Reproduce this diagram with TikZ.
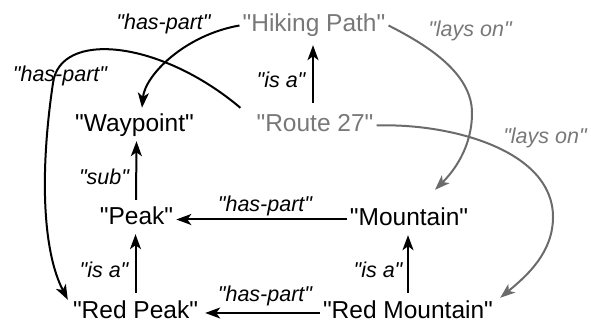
\documentclass[tikz,border=0pt]{standalone}
\usepackage{fontspec}
\setmainfont{Liberation Sans}[Ligatures=TeXOff]
\usetikzlibrary{arrows.meta}
\definecolor{txtgray}{gray}{0.47}
\definecolor{lngray}{gray}{0.42}
\tikzset{
  concept/.style={anchor=base, inner xsep=3pt, inner ysep=4pt, text height=18pt, text depth=5pt,
    font=\fontsize{24.5pt}{28pt}\selectfont},
  lowconcept/.style={concept, inner ysep=0pt, text depth=0pt},
  relname/.style={anchor=base, inner sep=0pt, font=\itshape\fontsize{21.5pt}{25pt}\selectfont},
  rel/.style={line width=2pt, -{Stealth[length=15pt, width=11pt, inset=4pt]}},
  grayrel/.style={rel, draw=lngray},
}
\begin{document}
\begin{tikzpicture}[x=1pt, y=1pt]
\useasboundingbox (0,0) rectangle (591,320);
% concepts
\node[concept, text=txtgray] (hiking) at (314,288) {"Hiking Path"};
\node[concept, text=txtgray] (route) at (315,188) {"Route 27"};
\node[concept] (waypoint) at (134.5,188) {"Waypoint"};
\node[concept] (peak) at (136.5,95) {"Peak"};
\node[concept] (mountain) at (409,94) {"Mountain"};
\node[lowconcept] (redpeak) at (135.5,1) {"Red Peak"};
\node[lowconcept] (redmountain) at (408,1) {"Red Mountain"};
% labels
\node[relname] (l1) at (163.5,290) {"has-part"};
\node[relname] (l2) at (60,238) {"has-part"};
\node[relname] (l3) at (281,232) {"is a"};
\node[relname] (l4) at (104,135) {"sub"};
\node[relname] (l5) at (104,42) {"is a"};
\node[relname] (l6) at (378,42) {"is a"};
\node[relname] (l7) at (265,108) {"has-part"};
\node[relname] (l8) at (265,18) {"has-part"};
\node[relname, text=txtgray] (l9) at (470,283) {"lays on"};
\node[relname, text=txtgray] (l10) at (545,176) {"lays on"};
% straight connectors
\draw[rel, shorten <=7pt, shorten >=4pt] ([xshift=-2pt]route.north) -- ([xshift=-1pt]hiking.south);
\draw[rel, shorten <=3pt] ([xshift=-0.5pt]peak.north) -- (peak.north |- waypoint.south);
\draw[rel, shorten <=8pt] (redpeak.north) -- (redpeak.north |- peak.south);
\draw[rel, shorten <=8pt] (redmountain.north) -- (redmountain.north |- mountain.south);
\draw[rel] (mountain.west) -- (mountain.west -| peak.east);
\draw[rel, shorten >=4pt] ([yshift=-3pt]redmountain.west) -- ([yshift=-3pt]redmountain.west -| redpeak.east);
% curved connectors
\draw[rel] (hiking.west) .. controls (185,285) and (145,245) .. ([xshift=7.5pt,yshift=2pt]waypoint.north);
\draw[rel] ([xshift=-13pt,yshift=2pt]route.north west) .. controls (160,280) and (60,290) .. (53,237)
  .. controls (40,150) and (42,70) .. ([shift={(-2pt,1pt)}]redpeak.north west);
\draw[grayrel] (hiking.east) .. controls (427,275) and (472,247) .. (472,207)
  .. controls (472,172) and (453,148) .. ([xshift=26pt,yshift=14pt]mountain.north);
\draw[grayrel] (route.east) .. controls (450,197) and (553,170) .. (553,103)
  .. controls (553,68) and (528,45) .. ([shift={(4pt,3pt)}]redmountain.north east);
\end{tikzpicture}
\end{document}
